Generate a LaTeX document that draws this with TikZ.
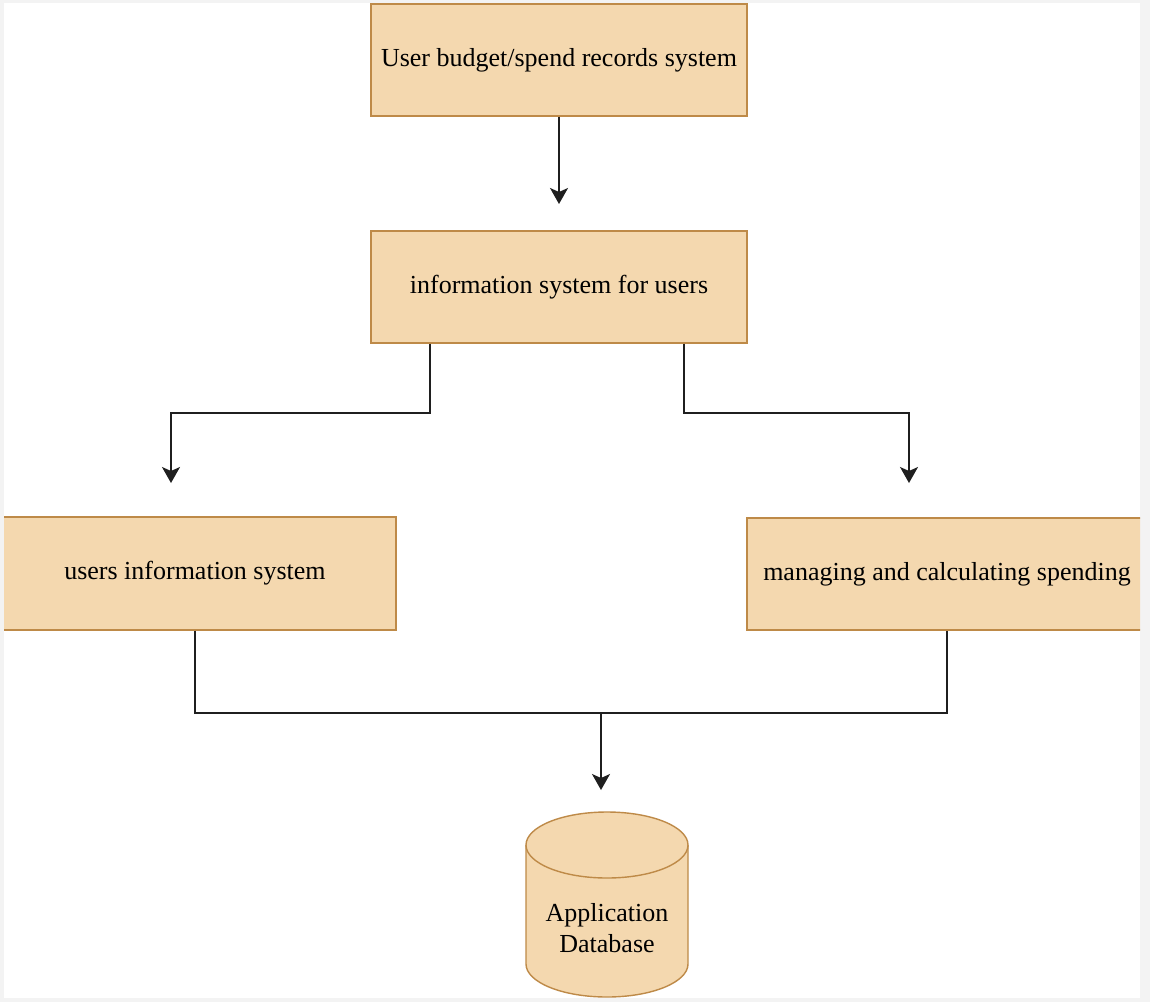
\documentclass[tikz,border=0pt]{standalone}
\usepackage{fontspec}
\setmainfont{Liberation Serif}
\usetikzlibrary{arrows.meta}
\definecolor{boxfill}{HTML}{F4D8AF}
\definecolor{boxline}{HTML}{BE8A48}
\definecolor{framegray}{HTML}{F3F3F3}
\begin{document}
\begin{tikzpicture}[x=1pt,y=-1pt,
  procbox/.style={draw=boxline, fill=boxfill, line width=1.4pt, inner sep=0pt,
    font=\fontsize{26}{31}\selectfont},
  cyl/.style={draw=boxline, fill=boxfill, line width=1.4pt},
  conn/.style={line width=1.8pt, draw=black!88},
  arr/.style={conn, -{Stealth[length=16pt,width=18pt,inset=4pt]}}]
\useasboundingbox (0,0) rectangle (1150,1002);
\fill[framegray] (0,0) rectangle (1150,1002);
\fill[white] (4,3) rectangle (1140,998);
\begin{scope}
\clip (4,3) rectangle (1140,998);
\node[procbox, minimum width=376pt, minimum height=112pt] (top) at (559,60) {User budget/spend records system};
\node[procbox, minimum width=376pt, minimum height=112pt] (mid) at (559,287) {information system for users};
\node[procbox, minimum width=402pt, minimum height=113pt] (li) at (195,573.5) {users information system};
\node[procbox, minimum width=400pt, minimum height=112pt] (ri) at (947,574) {managing and calculating spending};
% database cylinder
\draw[cyl] (526,845) -- (526,964) arc[start angle=180,end angle=0,x radius=81,y radius=33] -- (688,845);
\draw[cyl] (607,845) ellipse [x radius=81, y radius=33];
\node[font=\fontsize{26}{31}\selectfont, align=center, inner sep=0pt] (db) at (607,928) {Application\\Database};
\end{scope}
\coordinate (ta) at (559,204);
\coordinate (lt) at (171,483);
\coordinate (rt) at (909,483);
\coordinate (j) at (601,713);
\coordinate (dt) at (601,790);
\draw[arr] (top.south) -- (ta);
\draw[arr] ([xshift=-129pt]mid.south) -- ++(0,69) -| (lt);
\draw[arr] ([xshift=125pt]mid.south) -- ++(0,69) -| (rt);
\draw[conn] (li.south) |- (j) -| (ri.south);
\draw[arr] (j) -- (dt);
\end{tikzpicture}
\end{document}
